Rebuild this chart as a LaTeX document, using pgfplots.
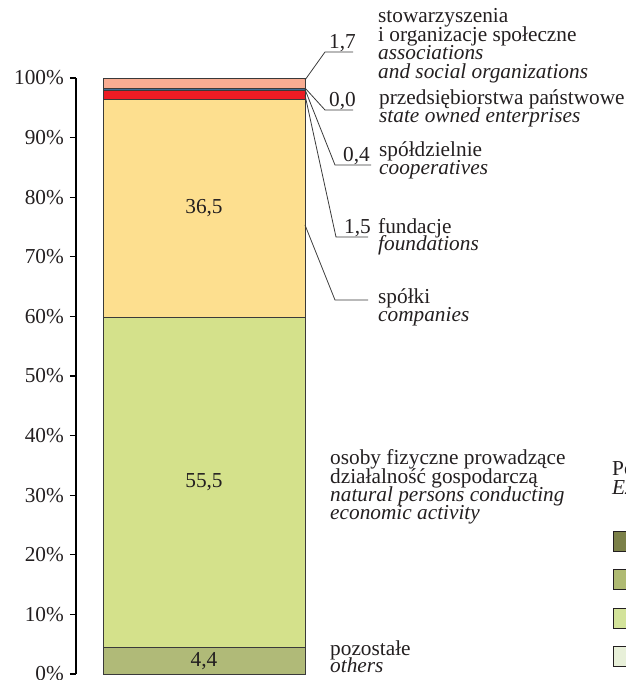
\documentclass[border=0pt]{standalone}
\usepackage{fontspec}
\setmainfont{Liberation Serif}
\usepackage{pgfplots}
\pgfplotsset{compat=1.18}
\definecolor{txt}{HTML}{231F20}
\definecolor{ln}{HTML}{3A3A3A}
\definecolor{cOth}{HTML}{B0BA78}
\definecolor{cNat}{HTML}{D4E18B}
\definecolor{cCom}{HTML}{FDDF8F}
\definecolor{cFou}{HTML}{ED1C24}
\definecolor{cCoop}{HTML}{3E6E96}
\definecolor{cSta}{HTML}{1F3550}
\definecolor{cAss}{HTML}{F8AC92}
\definecolor{lgA}{HTML}{7B8048}
\definecolor{lgB}{HTML}{AFBA72}
\definecolor{lgC}{HTML}{D3E39A}
\definecolor{lgD}{HTML}{E8F0D9}
\newcommand\fs{\fontsize{21.3}{18.4}\selectfont}
\begin{document}
\begin{tikzpicture}
\path[use as bounding box] (0,0) rectangle (625pt,680pt);
\begin{axis}[
  at={(76pt,6pt)}, anchor=south west,
  scale only axis, width=254pt, height=596pt,
  xmin=0, xmax=254, ymin=0, ymax=100,
  axis x line=none, axis y line*=left,
  axis line style={black, line width=1.1pt},
  ybar stacked, bar width=202,
  ytick={0,10,...,100},
  yticklabels={0\%,10\%,20\%,30\%,40\%,50\%,60\%,70\%,80\%,90\%,100\%},
  yticklabel style={font=\fs, text=txt, inner sep=0pt, xshift=-6pt},
  tick align=outside, ytick pos=left,
  major tick length=6pt,
  tick style={black, line width=1.1pt},
  clip=false,
  every axis plot/.append style={draw=ln, line width=0.7pt},
]
\addplot[fill=cOth] coordinates {(128,4.4)};
\addplot[fill=cNat] coordinates {(128,55.5)};
\addplot[fill=cCom] coordinates {(128,36.5)};
\addplot[fill=cFou] coordinates {(128,1.5)};
\addplot[fill=cCoop] coordinates {(128,0.4)};
\addplot[fill=cSta] coordinates {(128,0.0)};
\addplot[fill=cAss] coordinates {(128,1.7)};
\coordinate (lOth) at (axis cs:128,2.2);
\coordinate (lNat) at (axis cs:128,32.15);
\coordinate (lCom) at (axis cs:128,78.15);
\end{axis}
\node[font=\fs, text=txt, inner sep=0pt] at (lOth) {4,4};
\node[font=\fs, text=txt, inner sep=0pt] at (lNat) {55,5};
\node[font=\fs, text=txt, inner sep=0pt] at (lCom) {36,5};
\begin{scope}[x=1pt,y=-1pt,yshift=680pt,
  every node/.style={font=\fs,text=txt,inner sep=0pt,anchor=base west}]
% leader lines
\draw[ln, line width=0.8pt] (305,80) -- (325,52) -- (353,52);
\draw[ln, line width=0.8pt] (305,88) -- (325,110) -- (353,110);
\draw[ln, line width=0.8pt] (305,89.5) -- (335,165) -- (371,165);
\draw[ln, line width=0.8pt] (305,95) -- (336,237) -- (368,237);
\draw[ln, line width=0.8pt] (305,225) -- (335,300) -- (368,300);
% values
\node at (329,49) {1,7};
\node at (329,107) {0,0};
\node at (343,162) {0,4};
\node at (344,234) {1,5};
% associations
\node at (378,23) {stowarzyszenia};
\node at (378,41.4) {i organizacje społeczne};
\node at (378,59.8) {\itshape associations};
\node at (378,78.2) {\itshape and social organizations};
% state owned
\node at (379,105) {przedsiębiorstwa państwowe};
\node at (379,122.5) {\itshape state owned enterprises};
% cooperatives
\node at (379,157) {spółdzielnie};
\node at (379,174.5) {\itshape cooperatives};
% foundations
\node at (378,233.5) {fundacje};
\node at (378,251) {\itshape foundations};
% companies
\node at (378,304) {spółki};
\node at (378,322) {\itshape companies};
% natural persons
\node at (330,465) {osoby fizyczne prowadzące};
\node at (330,483.3) {działalność gospodarczą};
\node at (330,501.6) {\itshape natural persons conducting};
\node at (330,520) {\itshape economic activity};
% others
\node at (330,655.5) {pozostałe};
\node at (330,673) {\itshape others};
% partial legend at right edge
\node at (612,476) {Po};
\node at (612,495) {\itshape Ex};
\draw[txt, line width=0.8pt, fill=lgA] (613.5,531) rectangle (633,551);
\draw[txt, line width=0.8pt, fill=lgB] (613.5,569) rectangle (633,589);
\draw[txt, line width=0.8pt, fill=lgC] (613.5,608) rectangle (633,628);
\draw[txt, line width=0.8pt, fill=lgD] (613.5,646) rectangle (633,666);
\end{scope}
\end{tikzpicture}
\end{document}
